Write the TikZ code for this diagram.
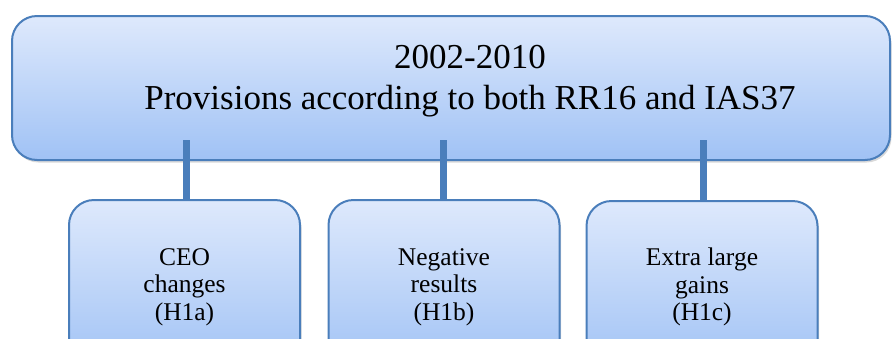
\documentclass[tikz,border=0pt]{standalone}
\usepackage{fontspec}
\setmainfont{Liberation Serif}
\usetikzlibrary{shadows}
\definecolor{bordc}{RGB}{74,126,187}
\definecolor{topc}{RGB}{222,233,252}
\definecolor{botc}{RGB}{160,194,245}
\tikzset{
  box/.style={draw=bordc, line width=2pt, rounded corners=25pt, top color=topc, bottom color=botc,
    inner sep=0pt,
    drop shadow={shadow xshift=1.5pt, shadow yshift=-2.5pt, opacity=0.3}},
  subbox/.style={box, minimum width=231pt, minimum height=170pt},
  toptext/.style={align=center, inner sep=0pt, text=black, font=\fontsize{35}{41}\selectfont},
  subtext/.style={align=center, inner sep=0pt, text=black, font=\fontsize{25.5}{27.5}\selectfont},
  link/.style={draw=bordc, line width=7pt}
}
\begin{document}
\begin{tikzpicture}[x=1pt,y=-1pt]
\useasboundingbox (0,0) rectangle (892,338);
\node[box, minimum width=878pt, minimum height=144pt] (top) at (451,88) {};
\node[toptext] (toptxt) at (470,81.5) {2002-2010\\Provisions according to both RR16 and IAS37};
\node[subbox] (b1) at (184.5,285) {};
\node[subbox] (b2) at (444,285) {};
\node[subbox] (b3) at (702,286) {};
\node[subtext] (t1) at (184.5,287) {CEO\\changes\\(H1a)};
\node[subtext] (t2) at (444,287) {Negative\\results\\(H1b)};
\node[subtext] (t3) at (702,287) {Extra large\\gains\\(H1c)};
\draw[link] ([xshift=1.5pt]b1.north) -- ++(0,-59);
\draw[link] ([xshift=-1pt]b2.north) -- ++(0,-59);
\draw[link] ([xshift=1pt]b3.north) -- ++(0,-60);
\end{tikzpicture}
\end{document}
